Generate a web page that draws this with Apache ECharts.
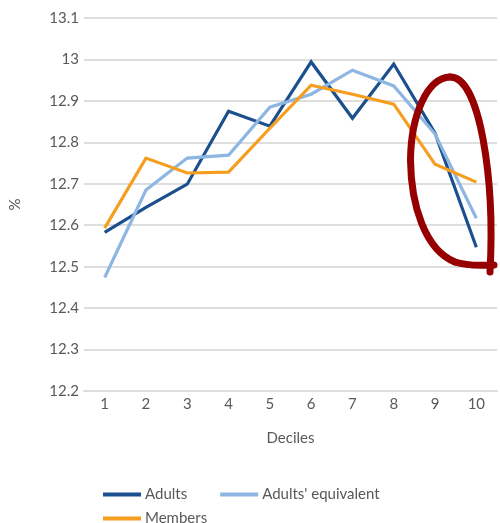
<!DOCTYPE html>
<html>
<head>
<meta charset="utf-8">
<style>
  html, body { margin: 0; padding: 0; background: #ffffff; }
  #chart { width: 500px; height: 523px; }
</style>
<script src="https://cdn.jsdelivr.net/npm/echarts@6/dist/echarts.min.js"></script>
</head>
<body>
<div id="chart"></div>
<script>
// Share of income (%) by decile
const deciles = ['1', '2', '3', '4', '5', '6', '7', '8', '9', '10'];
const adults = [12.583, 12.643, 12.699, 12.875, 12.839, 12.994, 12.858, 12.989, 12.822, 12.547];
const adultsEquivalent = [12.474, 12.685, 12.762, 12.769, 12.885, 12.916, 12.974, 12.936, 12.820, 12.617];
const members = [12.593, 12.762, 12.726, 12.728, 12.834, 12.938, 12.916, 12.892, 12.747, 12.704];

const textColor = '#595959';
const gridColor = '#dedede';
const font = 'Lato, "Open Sans", sans-serif';
const fontSize = 15;

const chart = echarts.init(document.getElementById('chart'));

function lineSeries(name, data, color) {
  return {
    name: name,
    type: 'line',
    data: data,
    symbol: 'none',
    lineStyle: { color: color, width: 3.2, join: 'miter' },
    itemStyle: { color: color },
    animation: false
  };
}

const legendCommon = {
  icon: 'rect',
  itemWidth: 38,
  itemHeight: 4,
  itemGap: 33,
  textStyle: { color: textColor, fontSize: fontSize, fontFamily: font, padding: [0, 0, 0, -1] },
  selectedMode: false
};

// Hand-drawn highlight loop around the top deciles, as cubic segments
const loopSegments = [
  [490, 272, 495, 180, 480, 76, 450, 77],
  [450, 77, 427, 78, 411, 115, 410.5, 160],
  [410.5, 160, 411, 205, 425, 250, 455, 262],
  [455, 262, 470, 267, 485, 265, 494, 265]
];
const loopStroke = { fill: null, stroke: '#960000', lineWidth: 7, lineCap: 'round' };

chart.setOption({
  animation: false,
  grid: { left: 79, right: 3, top: 18, bottom: 132 },
  xAxis: {
    type: 'category',
    data: deciles,
    boundaryGap: true,
    name: 'Deciles',
    nameLocation: 'middle',
    nameGap: 40,
    nameTextStyle: { color: textColor, fontSize: fontSize, fontFamily: font },
    axisLine: { lineStyle: { color: gridColor, width: 2 } },
    axisTick: { show: false },
    axisLabel: { color: textColor, fontSize: fontSize, fontFamily: font, margin: 6 }
  },
  yAxis: {
    type: 'value',
    min: 12.2,
    max: 13.1,
    interval: 0.1,
    name: '%',
    nameLocation: 'middle',
    nameGap: 61,
    nameTextStyle: { color: textColor, fontSize: fontSize, fontFamily: font },
    axisLine: { show: false },
    axisTick: { show: false },
    splitLine: { lineStyle: { color: gridColor, width: 2 } },
    axisLabel: {
      color: textColor, fontSize: fontSize, fontFamily: font, margin: 5,
      formatter: function (v) { return String(Math.round(v * 10) / 10); }
    }
  },
  legend: [
    Object.assign({ left: 98, top: 482, data: ['Adults', "Adults' equivalent"] }, legendCommon),
    Object.assign({ left: 98, top: 506, data: ['Members'] }, legendCommon)
  ],
  series: [
    lineSeries('Adults', adults, '#1c4f8e'),
    lineSeries("Adults' equivalent", adultsEquivalent, '#8db6e3'),
    lineSeries('Members', members, '#f59e1f')
  ],
  graphic: loopSegments.map(function (s) {
    return {
      type: 'bezierCurve',
      z: 100,
      shape: { x1: s[0], y1: s[1], cpx1: s[2], cpy1: s[3], cpx2: s[4], cpy2: s[5], x2: s[6], y2: s[7] },
      style: loopStroke
    };
  })
});
</script>
</body>
</html>
